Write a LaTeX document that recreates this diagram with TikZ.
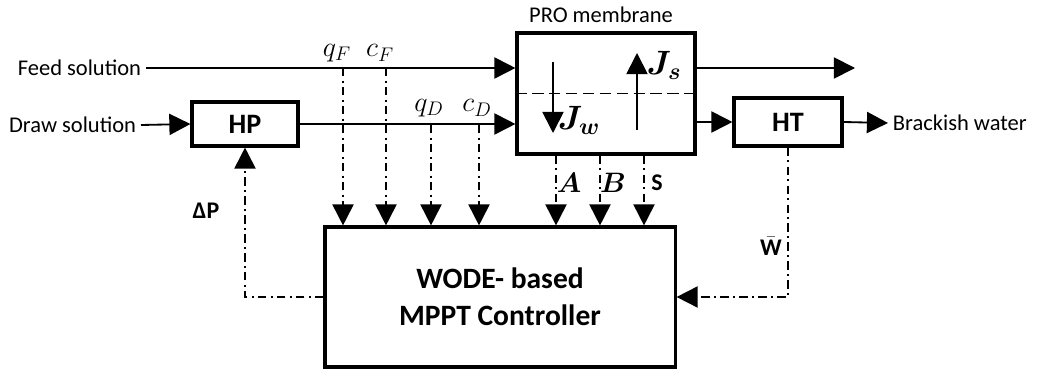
\RequirePackage{fix-cm}
\documentclass[tikz,border=0pt]{standalone}
\usepackage{amsmath,amssymb}
\usepackage{fontspec}
\setmainfont{Carlito}
\usetikzlibrary{arrows.meta,positioning,calc}

\begin{document}
\begin{tikzpicture}[x=0.025cm, y=-0.025cm,
    blk/.style={draw, line width=2.2pt, inner sep=0pt, font=\fontsize{20}{22}\selectfont\bfseries},
    txt/.style={font=\fontsize{16}{18}\selectfont},
    mth/.style={font=\fontsize{20}{22}\selectfont},
    flow/.style={line width=1.3pt, -{Triangle[length=15pt,width=15pt]}},
    sig/.style={line width=1.3pt, dash pattern=on 6pt off 3pt on 1.5pt off 3pt,
                -{Triangle[length=15pt,width=15pt]}},
]
\useasboundingbox (0,0) rectangle (1037,372);
% Inputs
\node[txt, anchor=east] (feedsol) at (146,68) {Feed solution};
\node[txt, anchor=east] (drawsol) at (141,125) {Draw solution};
\node[blk, minimum width=2.65cm, minimum height=1.1cm] (hp) at (245,124) {HP};

% PRO membrane
\node[blk, minimum width=4.45cm, minimum height=3.025cm] (pro) at (606,93.5) {};
\node[txt] (prolbl) at (601,15) {PRO membrane};
\draw[line width=1.3pt, dashed, dash pattern=on 8pt off 4pt] (pro.west) -- (pro.east);
\coordinate (jwtop) at (553,62);
\coordinate (jwbot) at (553,133);
\draw[flow] (jwtop) -- (jwbot);
\node[font=\fontsize{24}{26}\selectfont] (jw) at (579,120) {$\boldsymbol{J_w}$};
\coordinate (jsbot) at (637,130);
\coordinate (jstop) at (637,53);
\draw[flow] (jsbot) -- (jstop);
\node[font=\fontsize{24}{26}\selectfont] (js) at (664,65) {$\boldsymbol{J_s}$};

% Outputs
\node[blk, minimum width=2.7cm, minimum height=1.2cm] (ht) at (788,122) {HT};
\node[txt, anchor=west] (brack) at (888,123) {Brackish water};
\coordinate (out) at (855,68);

% Controller
\node[blk, minimum width=8.75cm, minimum height=3.5cm, align=center,
      font=\fontsize{21}{26}\selectfont\bfseries] (ctrl) at (500,297) {WODE- based\\MPPT Controller};

% Flows
\draw[flow] (feedsol.east) -- (feedsol.east -| pro.west);
\draw[flow] (drawsol.east) -- (hp.west);
\draw[flow] (hp.east) -- (hp.east -| pro.west);
\draw[flow] (pro.east |- out) -- (out);
\draw[flow] (ht.west -| pro.east) -- (ht.west);
\draw[flow] (ht.east) -- (brack.west);

% Measurements
\foreach \x/\nm/\lab in {343/qF/q_F, 386/cF/c_F} {
    \coordinate (\nm) at (\x,68);
    \draw[sig] (\nm) -- (\nm |- ctrl.north);
    \node[mth] (\nm lbl) at (\x-6,53) {$\lab$};
}
\foreach \x/\nm/\lab in {431/qD/q_D, 479/cD/c_D} {
    \coordinate (\nm) at (\x,125);
    \draw[sig] (\nm) -- (\nm |- ctrl.north);
    \node[mth] (\nm lbl) at (\x-2,108) {$\lab$};
}
\foreach \x/\nm/\lab in {556/pA/$\boldsymbol{A}$, 600/pB/$\boldsymbol{B}$} {
    \coordinate (\nm) at (\x,154);
    \draw[sig] (\nm |- pro.south) -- (\nm |- ctrl.north);
    \node[mth] (\nm lbl) at (\x+13,183) {\lab};
}
\coordinate (pS) at (644,154);
\draw[sig] (pS |- pro.south) -- (pS |- ctrl.north);
\node[txt, font=\fontsize{17}{19}\selectfont\bfseries] (pSlbl) at (657,183) {S};

% Feedback
\draw[sig] (ctrl.west) -| (hp.south);
\node[txt, font=\fontsize{17}{19}\selectfont\bfseries] (dp) at (206,211) {ΔP};
\draw[sig] (ht.south) |- (ctrl.east);
\node[txt, font=\fontsize{17}{19}\selectfont] (wbar) at (771,246) {$\bar{\text{\bfseries W}}$};
\end{tikzpicture}
\end{document}
